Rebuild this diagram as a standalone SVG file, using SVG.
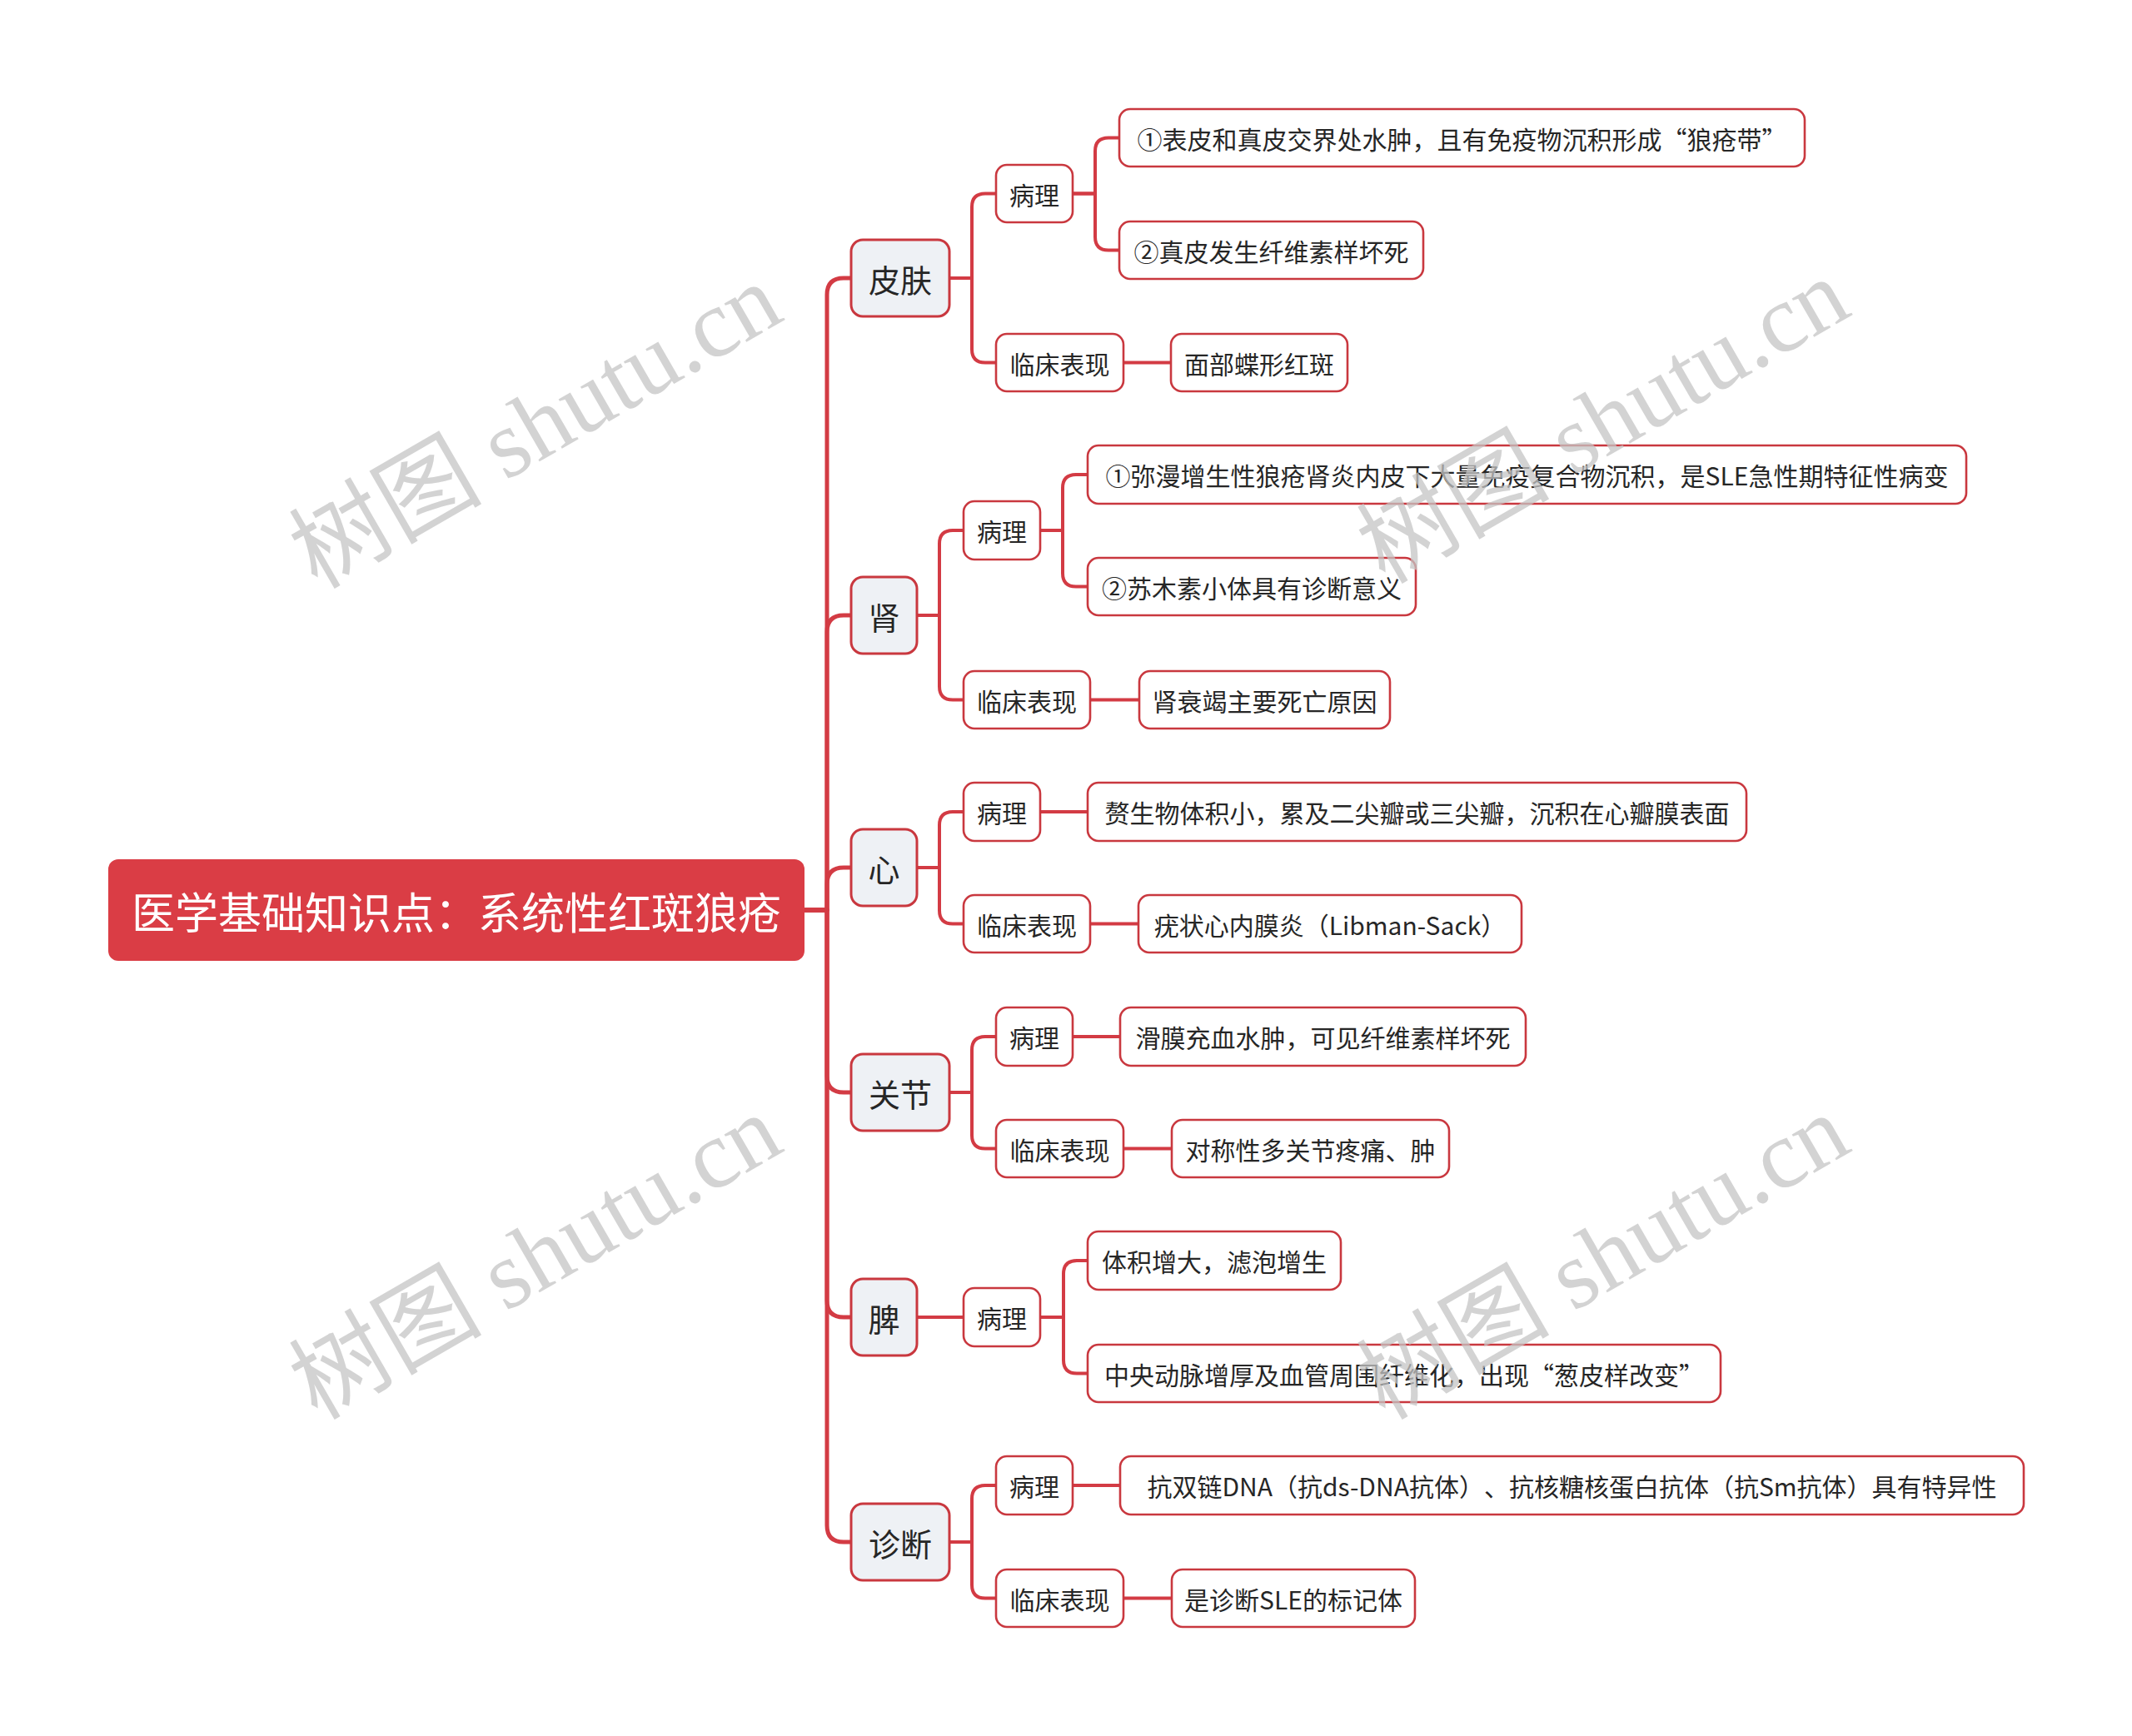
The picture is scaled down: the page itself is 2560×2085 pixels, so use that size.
<svg xmlns="http://www.w3.org/2000/svg" width="2560" height="2085" viewBox="0 0 2560 2085">
<style>
text{font-family:"Noto Sans CJK SC","Noto Sans",sans-serif;dominant-baseline:central;text-anchor:middle;fill:#262626;text-spacing-trim:space-all}
.root rect{fill:#DA3D45}
.root text{fill:#ffffff;font-size:52px}
.l1 rect{fill:#EEF1F5;stroke:#C9383F;stroke-width:3}
.l1 text{font-size:38px}
.l2 rect,.lf rect{fill:#ffffff;stroke:#C9383F;stroke-width:2.6}
.l2 text,.lf text{font-size:30px}
#connectors path{fill:none;stroke:#D33B44;stroke-width:4;stroke-linejoin:round}
#connectors .trunk{stroke-width:5}
.wm text{font-family:"Liberation Serif","Noto Sans CJK SC",serif;font-size:116px;fill:#C4C4C4;fill-opacity:0.75}
</style>
<rect width="2560" height="2085" fill="#ffffff"/>
<g id="connectors">
<path class="trunk" d="M966,1093 H993 V354 Q993,334 1013,334 H1022"/>
<path class="trunk" d="M966,1093 H993 V759 Q993,739 1013,739 H1022"/>
<path class="trunk" d="M966,1093 H993 V1062 Q993,1042 1013,1042 H1022"/>
<path class="trunk" d="M966,1093 H993 V1292 Q993,1312 1013,1312 H1022"/>
<path class="trunk" d="M966,1093 H993 V1562 Q993,1582 1013,1582 H1022"/>
<path class="trunk" d="M966,1093 H993 V1832 Q993,1852 1013,1852 H1022"/>
<path d="M1140,334 H1167 V248.5 Q1167,232.5 1183,232.5 H1196"/>
<path d="M1140,334 H1167 V419.5 Q1167,435.5 1183,435.5 H1196"/>
<path d="M1288,232.5 H1315 V181.5 Q1315,165.5 1331,165.5 H1344"/>
<path d="M1288,232.5 H1315 V284.5 Q1315,300.5 1331,300.5 H1344"/>
<path d="M1349,435.5 H1406"/>
<path d="M1101,739 H1128 V653 Q1128,637 1144,637 H1157"/>
<path d="M1101,739 H1128 V824.5 Q1128,840.5 1144,840.5 H1157"/>
<path d="M1249,637 H1276 V586 Q1276,570 1292,570 H1306"/>
<path d="M1249,637 H1276 V688.5 Q1276,704.5 1292,704.5 H1306"/>
<path d="M1309,840.5 H1368"/>
<path d="M1101,1042 H1128 V991 Q1128,975 1144,975 H1157"/>
<path d="M1101,1042 H1128 V1093.5 Q1128,1109.5 1144,1109.5 H1157"/>
<path d="M1249,975 H1306"/>
<path d="M1309,1109.5 H1367"/>
<path d="M1140,1312 H1167 V1261 Q1167,1245 1183,1245 H1196"/>
<path d="M1140,1312 H1167 V1363.5 Q1167,1379.5 1183,1379.5 H1196"/>
<path d="M1288,1245 H1345"/>
<path d="M1349,1379.5 H1407"/>
<path d="M1101,1582 H1157"/>
<path d="M1249,1582 H1277 V1530 Q1277,1514 1293,1514 H1306"/>
<path d="M1249,1582 H1277 V1633.5 Q1277,1649.5 1293,1649.5 H1306"/>
<path d="M1140,1852 H1167 V1800 Q1167,1784 1183,1784 H1196"/>
<path d="M1140,1852 H1167 V1903.5 Q1167,1919.5 1183,1919.5 H1196"/>
<path d="M1288,1784 H1345"/>
<path d="M1349,1919.5 H1407"/>
</g>
<g id="root" class="root"><rect x="130" y="1032" width="836" height="122" rx="12"/><text x="548" y="1093">医学基础知识点：系统性红斑狼疮</text></g>

<g id="n-pifu" class="l1"><rect x="1022" y="288" width="118" height="92" rx="14"/><text x="1081" y="334">皮肤</text></g>
<g id="n-pifu-bl" class="l2"><rect x="1196" y="198" width="92" height="69" rx="13"/><text x="1242" y="232.5">病理</text></g>
<g id="n-pifu-bl-1" class="lf"><rect x="1344" y="131" width="823" height="69" rx="13"/><text x="1755.5" y="165.5">①表皮和真皮交界处水肿，且有免疫物沉积形成“狼疮带”</text></g>
<g id="n-pifu-bl-2" class="lf"><rect x="1344" y="266" width="365" height="69" rx="13"/><text x="1526.5" y="300.5">②真皮发生纤维素样坏死</text></g>
<g id="n-pifu-lc" class="l2"><rect x="1196" y="401" width="153" height="69" rx="13"/><text x="1272.5" y="435.5">临床表现</text></g>
<g id="n-pifu-lc-1" class="lf"><rect x="1406" y="401" width="212" height="69" rx="13"/><text x="1512" y="435.5">面部蝶形红斑</text></g>

<g id="n-shen" class="l1"><rect x="1022" y="693" width="79" height="92" rx="14"/><text x="1061.5" y="739">肾</text></g>
<g id="n-shen-bl" class="l2"><rect x="1157" y="602" width="92" height="70" rx="13"/><text x="1203" y="637">病理</text></g>
<g id="n-shen-bl-1" class="lf"><rect x="1306" y="535" width="1055" height="70" rx="13"/><text x="1833.5" y="570">①弥漫增生性狼疮肾炎内皮下大量免疫复合物沉积，是SLE急性期特征性病变</text></g>
<g id="n-shen-bl-2" class="lf"><rect x="1306" y="670" width="394" height="69" rx="13"/><text x="1503" y="704.5">②苏木素小体具有诊断意义</text></g>
<g id="n-shen-lc" class="l2"><rect x="1157" y="806" width="152" height="69" rx="13"/><text x="1233" y="840.5">临床表现</text></g>
<g id="n-shen-lc-1" class="lf"><rect x="1368" y="806" width="301" height="69" rx="13"/><text x="1518.5" y="840.5">肾衰竭主要死亡原因</text></g>

<g id="n-xin" class="l1"><rect x="1022" y="996" width="79" height="92" rx="14"/><text x="1061.5" y="1042">心</text></g>
<g id="n-xin-bl" class="l2"><rect x="1157" y="940" width="92" height="70" rx="13"/><text x="1203" y="975">病理</text></g>
<g id="n-xin-bl-1" class="lf"><rect x="1306" y="940" width="791" height="70" rx="13"/><text x="1701.5" y="975">赘生物体积小，累及二尖瓣或三尖瓣，沉积在心瓣膜表面</text></g>
<g id="n-xin-lc" class="l2"><rect x="1157" y="1075" width="152" height="69" rx="13"/><text x="1233" y="1109.5">临床表现</text></g>
<g id="n-xin-lc-1" class="lf"><rect x="1367" y="1075" width="460" height="69" rx="13"/><text x="1597" y="1109.5">疣状心内膜炎（Libman-Sack）</text></g>

<g id="n-guanjie" class="l1"><rect x="1022" y="1266" width="118" height="92" rx="14"/><text x="1081" y="1312">关节</text></g>
<g id="n-guanjie-bl" class="l2"><rect x="1196" y="1210" width="92" height="70" rx="13"/><text x="1242" y="1245">病理</text></g>
<g id="n-guanjie-bl-1" class="lf"><rect x="1345" y="1210" width="487" height="70" rx="13"/><text x="1588.5" y="1245">滑膜充血水肿，可见纤维素样坏死</text></g>
<g id="n-guanjie-lc" class="l2"><rect x="1196" y="1345" width="153" height="69" rx="13"/><text x="1272.5" y="1379.5">临床表现</text></g>
<g id="n-guanjie-lc-1" class="lf"><rect x="1407" y="1345" width="333" height="69" rx="13"/><text x="1573.5" y="1379.5">对称性多关节疼痛、肿</text></g>

<g id="n-pi" class="l1"><rect x="1022" y="1536" width="79" height="92" rx="14"/><text x="1061.5" y="1582">脾</text></g>
<g id="n-pi-bl" class="l2"><rect x="1157" y="1547" width="92" height="70" rx="13"/><text x="1203" y="1582">病理</text></g>
<g id="n-pi-bl-1" class="lf"><rect x="1306" y="1479" width="304" height="70" rx="13"/><text x="1458" y="1514">体积增大，滤泡增生</text></g>
<g id="n-pi-bl-2" class="lf"><rect x="1306" y="1615" width="760" height="69" rx="13"/><text x="1686" y="1649.5">中央动脉增厚及血管周围纤维化，出现“葱皮样改变”</text></g>

<g id="n-zhenduan" class="l1"><rect x="1022" y="1806" width="118" height="92" rx="14"/><text x="1081" y="1852">诊断</text></g>
<g id="n-zhenduan-bl" class="l2"><rect x="1196" y="1749" width="92" height="70" rx="13"/><text x="1242" y="1784">病理</text></g>
<g id="n-zhenduan-bl-1" class="lf"><rect x="1345" y="1749" width="1085" height="70" rx="13"/><text x="1887.5" y="1784">抗双链DNA（抗ds-DNA抗体）、抗核糖核蛋白抗体（抗Sm抗体）具有特异性</text></g>
<g id="n-zhenduan-lc" class="l2"><rect x="1196" y="1885" width="153" height="69" rx="13"/><text x="1272.5" y="1919.5">临床表现</text></g>
<g id="n-zhenduan-lc-1" class="lf"><rect x="1407" y="1885" width="292" height="69" rx="13"/><text x="1553" y="1919.5">是诊断SLE的标记体</text></g>

<g class="wm">
<text transform="translate(643,512) rotate(-30)">树图 shutu.cn</text>
<text transform="translate(1925,506) rotate(-30)">树图 shutu.cn</text>
<text transform="translate(643,1510) rotate(-30)">树图 shutu.cn</text>
<text transform="translate(1925,1510) rotate(-30)">树图 shutu.cn</text>
</g>
</svg>
